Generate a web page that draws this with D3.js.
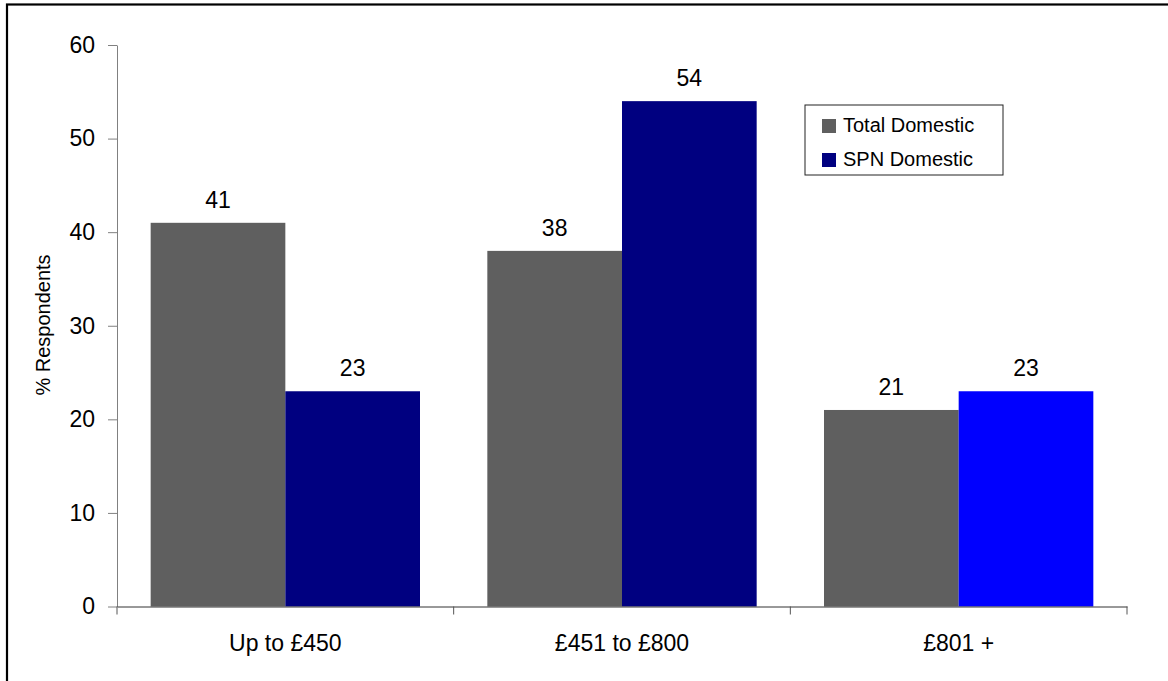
<!DOCTYPE html>
<html>
<head>
<meta charset="utf-8">
<script src="https://cdn.jsdelivr.net/npm/d3@7"></script>
<style>
  body { margin: 0; background: #fff; }
  svg { display: block; font-family: "Liberation Sans", Arial, sans-serif; }
  .axis text { font-size: 23px; fill: #000; font-family: "Liberation Sans", Arial, sans-serif; }
</style>
</head>
<body>
<svg width="1168" height="681"></svg>
<script>
// chart values
var categories = ['Up to £450', '£451 to £800', '£801 +'];
var seriesNames = ['Total Domestic', 'SPN Domestic'];
var totalDomestic = [41, 38, 21];
var spnDomestic = [23, 54, 23];
var yTicks = [0, 10, 20, 30, 40, 50, 60];

var seriesColors = {'Total Domestic': '#5f5f5f', 'SPN Domestic': '#000080'};
var highlightColor = '#0000ff'; // last SPN bar is drawn in a brighter blue

var svg = d3.select('svg');

// outer frame (cut off on the right and bottom)
svg.append('rect')
    .attr('x', 7).attr('y', 4.5)
    .attr('width', 1200).attr('height', 720)
    .attr('fill', 'none')
    .attr('stroke', '#000')
    .attr('stroke-width', 2.2);

var plot = {l: 117, r: 1127, t: 45, b: 606.5};

var x0 = d3.scaleBand().domain(categories).range([plot.l, plot.r]);
var x1 = d3.scaleBand().domain(seriesNames)
    .range([x0.bandwidth() * 0.1, x0.bandwidth() * 0.9]);
var y = d3.scaleLinear().domain([0, 60]).range([plot.b, plot.t]);

var rows = categories.map(function(c, i) {
    return {cat: c, values: [
        {name: 'Total Domestic', value: totalDomestic[i], idx: i},
        {name: 'SPN Domestic', value: spnDomestic[i], idx: i}
    ]};
});

// bars
var groups = svg.selectAll('.group')
    .data(rows)
    .enter()
    .append('g')
    .attr('class', 'group')
    .attr('transform', function(d) { return 'translate(' + x0(d.cat) + ',0)'; });

groups.selectAll('.bar')
    .data(function(d) { return d.values; })
    .enter()
    .append('rect')
    .attr('class', 'bar')
    .attr('x', function(d) { return x1(d.name); })
    .attr('width', x1.bandwidth())
    .attr('y', function(d) { return y(d.value); })
    .attr('height', function(d) { return y(0) - y(d.value); })
    .attr('fill', function(d) {
        if (d.name === 'SPN Domestic' && d.idx === categories.length - 1) return highlightColor;
        return seriesColors[d.name];
    });

groups.selectAll('.value-label')
    .data(function(d) { return d.values; })
    .enter()
    .append('text')
    .attr('class', 'value-label')
    .attr('x', function(d) { return x1(d.name) + x1.bandwidth() / 2; })
    .attr('y', function(d) { return y(d.value) - 15; })
    .attr('text-anchor', 'middle')
    .style('font-size', '23px')
    .text(function(d) { return d.value; });

// y axis
var yAxisG = svg.append('g')
    .attr('class', 'axis y')
    .attr('transform', 'translate(' + plot.l + ',0)')
    .call(d3.axisLeft(y).tickValues(yTicks).tickSize(9).tickPadding(13).tickSizeOuter(0));
yAxisG.selectAll('line, path').attr('stroke', '#808080');

// x axis: labels centred on categories, ticks at category boundaries
var xAxisG = svg.append('g')
    .attr('class', 'axis x')
    .attr('transform', 'translate(0,' + plot.b + ')')
    .call(d3.axisBottom(x0).tickSize(0).tickPadding(28).tickSizeOuter(0));
xAxisG.select('.domain').attr('stroke', '#333');
xAxisG.selectAll('text').attr('dy', '0.72em');

var bounds = categories.map(function(c) { return x0(c); }).concat([plot.r]);
xAxisG.selectAll('.bound')
    .data(bounds)
    .enter()
    .append('line')
    .attr('class', 'bound')
    .attr('x1', function(d) { return d; })
    .attr('x2', function(d) { return d; })
    .attr('y1', 0)
    .attr('y2', 8)
    .attr('stroke', '#555');

// y axis title
svg.append('text')
    .attr('transform', 'translate(50,325)rotate(-90)')
    .attr('text-anchor', 'middle')
    .style('font-size', '20px')
    .text('% Respondents');

// legend
var legend = svg.append('g').attr('transform', 'translate(805,105)');
legend.append('rect')
    .attr('width', 198).attr('height', 70)
    .attr('fill', '#fff')
    .attr('stroke', '#222')
    .attr('stroke-width', 1);

var items = legend.selectAll('.item')
    .data(seriesNames)
    .enter()
    .append('g')
    .attr('class', 'item')
    .attr('transform', function(d, i) { return 'translate(17,' + (14 + i * 34) + ')'; });
items.append('rect')
    .attr('width', 14).attr('height', 14)
    .attr('fill', function(d) { return seriesColors[d]; });
items.append('text')
    .attr('x', 21).attr('y', 13)
    .style('font-size', '20px')
    .text(function(d) { return d; });
</script>
</body>
</html>
